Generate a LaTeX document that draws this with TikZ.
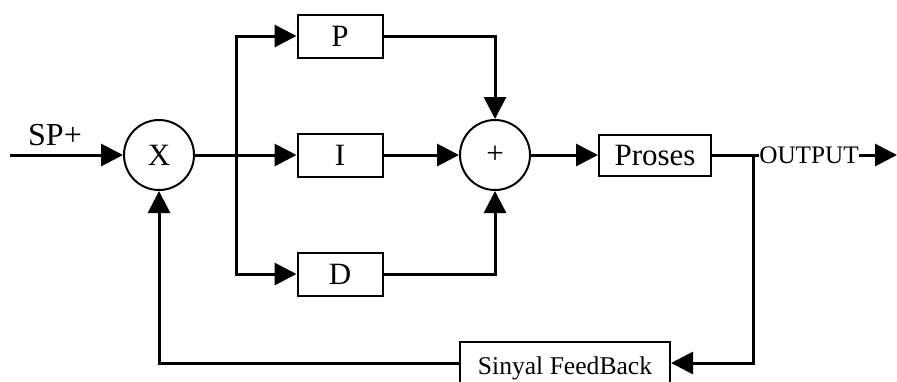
\documentclass[tikz,border=0pt]{standalone}
\usepackage{fontspec}
\setmainfont{Liberation Serif}
\usetikzlibrary{arrows.meta,positioning}

\begin{document}
\begin{tikzpicture}[
  x=0.5pt, y=-0.5pt,
  font=\fontsize{15.5}{18}\selectfont,
  blk/.style={draw, line width=1pt, minimum width=42.5pt, minimum height=21.5pt, inner sep=0pt},
  sum/.style={draw, circle, line width=1pt, minimum size=35pt, inner sep=0pt},
  arr/.style={-{Triangle[length=11pt, width=11pt]}, line width=1.5pt},
  wire/.style={line width=1.5pt},
]
\useasboundingbox (0,0) rectangle (897,381);
% -- main path --------------------------------------------------------------
\coordinate (in) at (10,155);
\node[sum] (err) at (159,155) {X};
\coordinate (br) at (236,155);
\node[blk] (p) at (340,36) {P};
\node[blk] (i) at (340,155) {I};
\node[blk] (d) at (340,274) {D};
\node[sum] (add) at (495,155) {+};
\node[blk, minimum width=56pt, minimum height=20.5pt] (plant) at (655,155) {Proses};
\coordinate (tap) at (753,155);
\node[inner sep=0pt, font=\fontsize{12.6}{15}\selectfont] (out) at (809,155) {OUTPUT};
\coordinate (end) at (897,155);
\node[font=\fontsize{16}{18}\selectfont] (sp) at (55,135) {SP+};

% -- feedback ---------------------------------------------------------------
\node[blk, minimum width=105pt, text height=16pt, text depth=4.5pt, font=\fontsize{12.8}{15}\selectfont] (fb) at (565,363) {Sinyal FeedBack};
\coordinate (fbr) at (753,363);
\coordinate (fbl) at (159,363);

% -- arrows -----------------------------------------------------------------
\draw[arr] (in) -- (err);
\draw[wire] (err) -- (br);
\draw[arr] (br) |- (p.west);
\draw[arr] (br) -- (i);
\draw[arr] (br) |- (d.west);
\draw[arr] (p.east) -| (add.north);
\draw[arr] (i) -- (add);
\draw[arr] (d.east) -| (add.south);
\draw[arr] (add) -- (plant);
\draw[wire] (plant) -- (out.west);
\draw[arr] (out.east) -- (end);
\draw[arr] (tap) -- (fbr) -- (fb.east);
\draw[arr] (fb.west) -- (fbl) -- (err.south);
\end{tikzpicture}
\end{document}
